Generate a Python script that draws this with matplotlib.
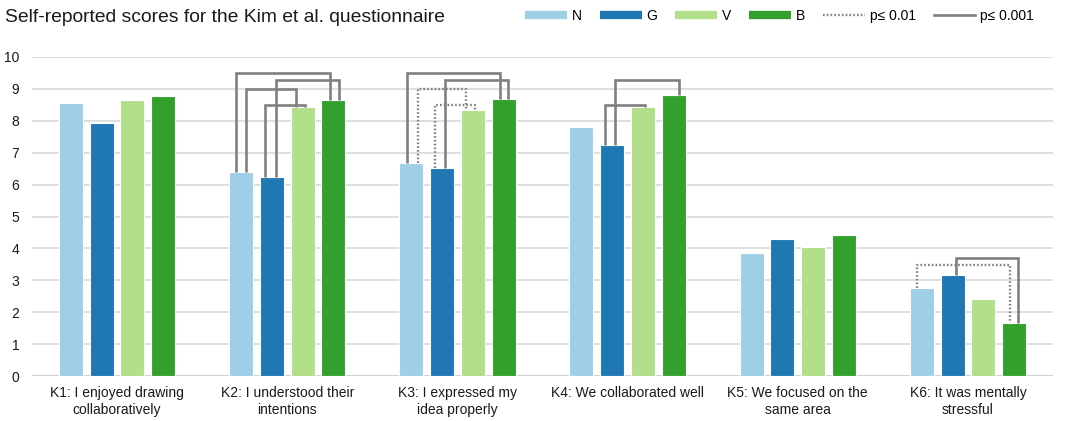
import matplotlib
matplotlib.use("Agg")
import matplotlib.pyplot as plt
from matplotlib.lines import Line2D
import numpy as np

plt.rcParams['font.family'] = ['Liberation Sans', 'DejaVu Sans']

categories = [
    "K1: I enjoyed drawing\ncollaboratively",
    "K2: I understood their\nintentions",
    "K3: I expressed my\nidea properly",
    "K4: We collaborated well",
    "K5: We focused on the\nsame area",
    "K6: It was mentally\nstressful",
]
series_names = ["N", "G", "V", "B"]
N_vals = [8.56, 6.38, 6.68, 7.79, 3.87, 2.77]
G_vals = [7.93, 6.24, 6.51, 7.23, 4.28, 3.16]
V_vals = [8.65, 8.42, 8.33, 8.44, 4.04, 2.41]
B_vals = [8.77, 8.65, 8.67, 8.80, 4.42, 1.67]
series_vals = [N_vals, G_vals, V_vals, B_vals]
yticks = list(range(0, 11))

# significance brackets: (group, series i, series j, bracket top, level)
brackets = [
    (1, 0, 3, 9.50, "p001"),
    (1, 1, 3, 9.29, "p001"),
    (1, 0, 2, 9.00, "p001"),
    (1, 1, 2, 8.49, "p001"),
    (2, 0, 3, 9.50, "p001"),
    (2, 1, 3, 9.29, "p001"),
    (2, 0, 2, 9.00, "p01"),
    (2, 1, 2, 8.49, "p01"),
    (3, 1, 3, 9.29, "p001"),
    (3, 1, 2, 8.49, "p001"),
    (5, 1, 3, 3.69, "p001"),
    (5, 0, 3, 3.47, "p01"),
]
# leg offsets from bar centres, in pixels (layout only)
leg_offsets_px = [
    (-4.6, -3.3), (3.7, 5.3), (5.4, -6.8), (-6.6, 2.2),
    (-4.0, -3.6), (3.3, 4.7), (6.5, -6.6), (-6.7, 2.0),
    (3.3, 5.0), (-6.7, 1.6),
    (3.3, 4.3), (-4.7, -3.7),
]

colors = ["#9ecfe6", "#1f78b4", "#b2df8a", "#33a02c"]
bracket_color = "#808080"

fig = plt.figure(figsize=(10.65, 4.21), dpi=100)
ax = fig.add_axes([32/1065, 45/421, (1053-32)/1065, (376-57)/421])

x = np.arange(len(categories))
step = 0.181
width = 0.141
for k, (name, vals) in enumerate(zip(series_names, series_vals)):
    ax.bar(x + (k - 1.5) * step, vals, width=width, color=colors[k],
           edgecolor="white", linewidth=0.8, zorder=3, label=name)

px = 1.0 / 170.0
for (g, i, j, top, lvl), (oi, oj) in zip(brackets, leg_offsets_px):
    xi = g + (i - 1.5) * step + oi * px
    xj = g + (j - 1.5) * step + oj * px
    yi = series_vals[i][g]
    yj = series_vals[j][g]
    if lvl == "p001":
        ls = "-"
        lw = 1.9
    else:
        ls = (0, (0.7, 0.9))
        lw = 1.7
    ax.plot([xi, xi, xj, xj], [yi, top, top, yj], color=bracket_color,
            lw=lw, linestyle=ls, zorder=4, solid_joinstyle="miter",
            solid_capstyle="butt", dash_capstyle="butt")

ax.set_xlim(-0.5, len(categories) - 0.5)
ax.set_ylim(0, 10)
ax.set_yticks(yticks)
ax.set_xticks(x)
ax.set_xticklabels(categories, fontsize=10, linespacing=1.3, color="#1a1a1a")
ax.tick_params(axis="y", labelsize=10, length=0, pad=9, labelcolor="#1a1a1a")
ax.tick_params(axis="x", length=0, pad=7)
ax.grid(axis="y", color="#d9d9d9", linewidth=1.2, zorder=0)
ax.set_axisbelow(True)
for s in ax.spines.values():
    s.set_visible(False)
ax.axhline(0, color="#d0d0d0", linewidth=1.3, zorder=1)

fig.text(5/1065, 1 - 17/421, "Self-reported scores for the Kim et al. questionnaire",
         fontsize=13.9, va="center", ha="left", color="#1a1a1a")

handles = [Line2D([], [], color=c, lw=6, solid_capstyle="butt") for c in colors]
handles.append(Line2D([], [], color=bracket_color, lw=1.7, linestyle=(0, (0.7, 0.9))))
handles.append(Line2D([], [], color=bracket_color, lw=1.9))
labels = series_names + ["p\u2264 0.01", "p\u2264 0.001"]
fig.legend(handles, labels, loc="center right", bbox_to_anchor=(1034/1065, 1 - 16/421),
           ncol=6, frameon=False, fontsize=10, handlelength=3.0,
           handletextpad=0.35, columnspacing=1.3, borderaxespad=0.0, borderpad=0.0)

fig.savefig("out.png", dpi=100)
